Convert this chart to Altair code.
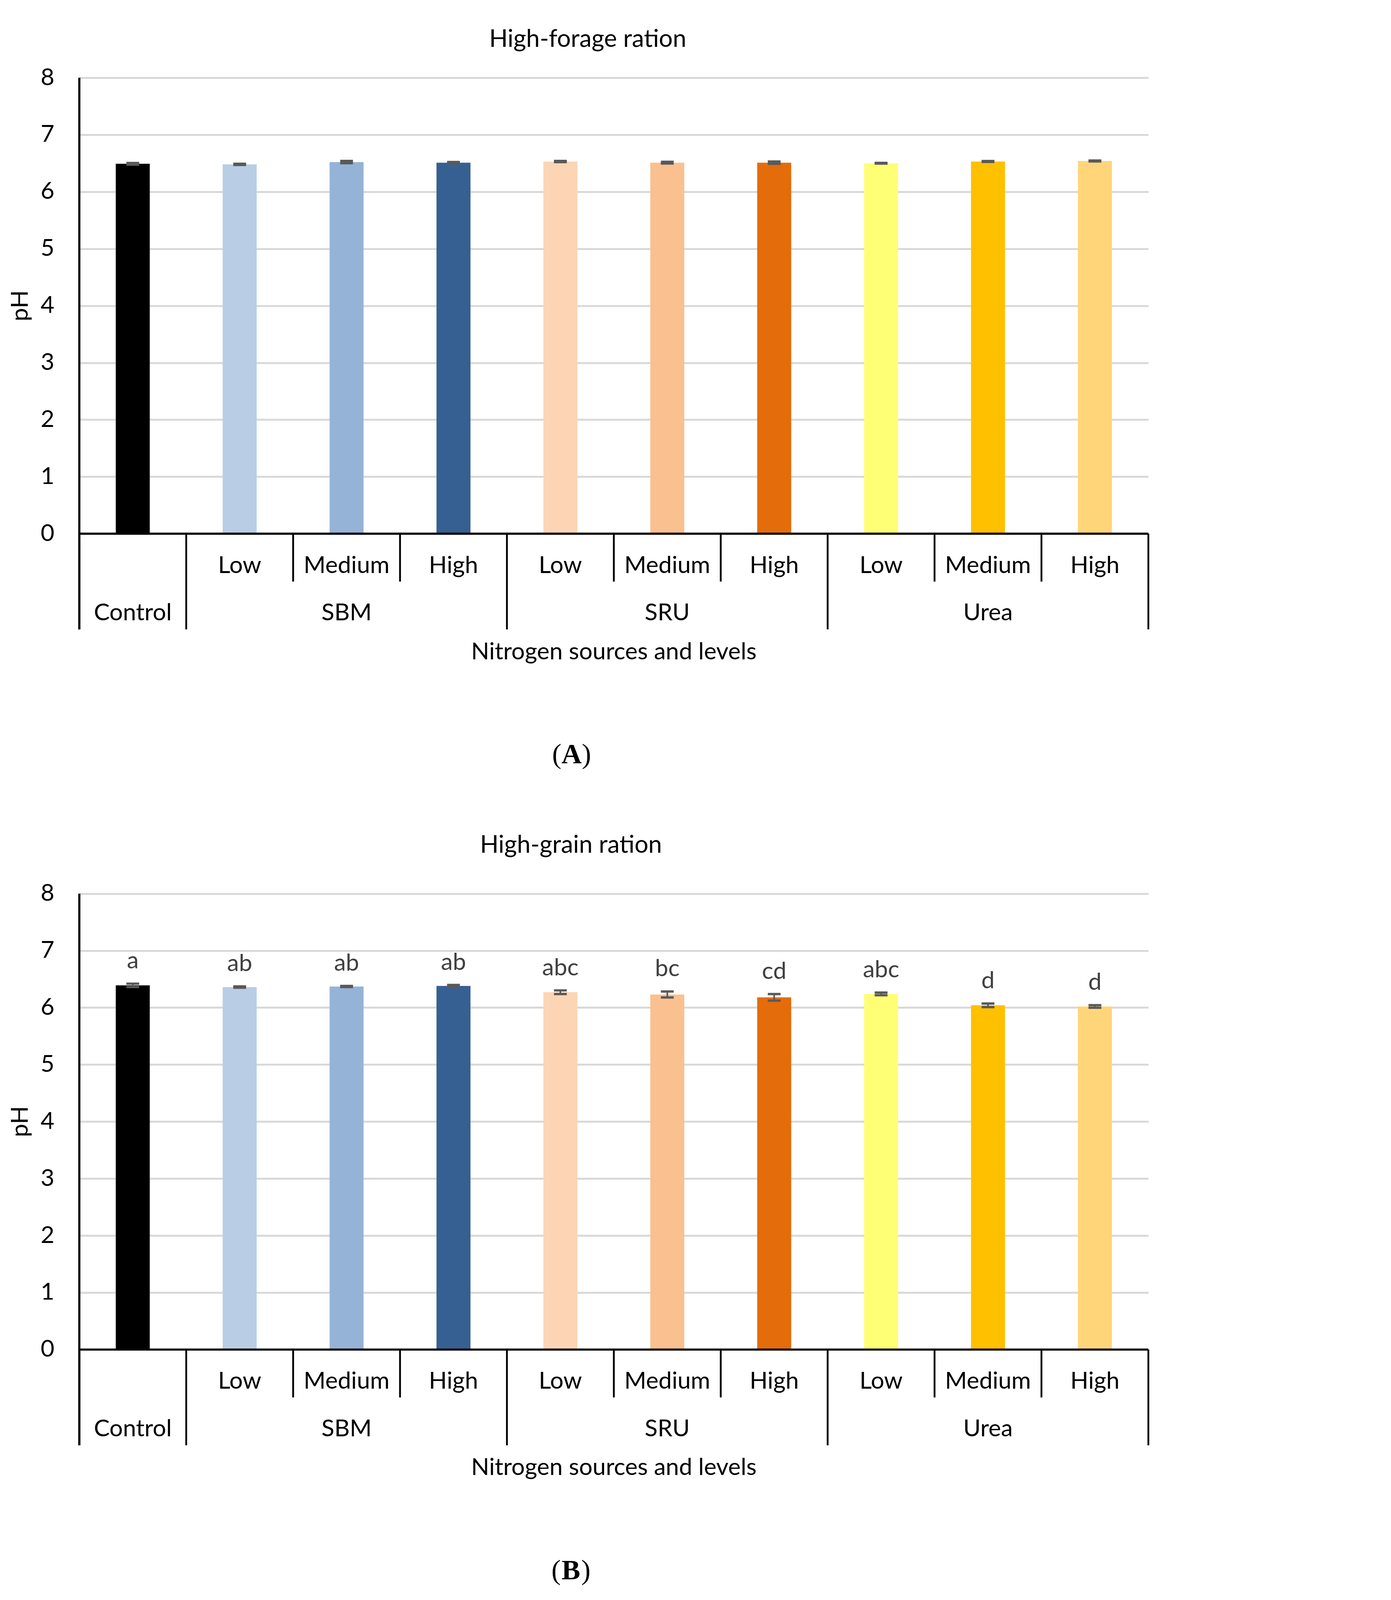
import altair as alt
import pandas as pd

# ---------------- data ----------------
sources = ["Control", "SBM", "SBM", "SBM", "SRU", "SRU", "SRU", "Urea", "Urea", "Urea"]
levels = ["", "Low", "Medium", "High", "Low", "Medium", "High", "Low", "Medium", "High"]
group_names = ["Control", "SBM", "SRU", "Urea"]
group_start = [0, 1, 4, 7]
group_size = [1, 3, 3, 3]
bar_colors = ["#000000", "#B9CDE5", "#95B3D7", "#376092", "#FCD5B5",
              "#FAC090", "#E46C0A", "#FFFF75", "#FFC000", "#FFD579"]

forage_mean = [6.49, 6.48, 6.52, 6.51, 6.53, 6.51, 6.51, 6.50, 6.53, 6.54]
forage_se = [0.015, 0.010, 0.020, 0.012, 0.010, 0.015, 0.020, 0.006, 0.008, 0.008]

grain_mean = [6.39, 6.36, 6.37, 6.38, 6.27, 6.23, 6.18, 6.24, 6.04, 6.02]
grain_se = [0.030, 0.012, 0.010, 0.018, 0.032, 0.052, 0.058, 0.023, 0.032, 0.023]
grain_letters = ["a", "ab", "ab", "ab", "abc", "bc", "cd", "abc", "d", "d"]

panel_titles = ["High-forage ration", "High-grain ration"]
panel_tags = ["A", "B"]
y_ticks = [0, 1, 2, 3, 4, 5, 6, 7, 8]
x_title = "Nitrogen sources and levels"
y_title = "pH"

# ---------------- layout / styling ----------------
S = 1 / 1.185           # screen-pixel to css-pixel factor observed in rendering


def px(v):
    return v * S


FONT = "Lato"
FS = px(72)
PLOT_W = round(px(3242))
UNIT = px(172.9)        # pixels per pH unit
Y_MIN = -1.68           # bottom of the category-label area (pH units below 0)
Y_MAX = 8
SHIFT = 14.315          # vertical distance between the two panels' zero lines (pH units)
Y_LOW = Y_MIN - SHIFT
PLOT_H = round((Y_MAX - Y_LOW) * UNIT)

x_scale = alt.Scale(domain=[0, 10], nice=False, zero=False)
y_scale = alt.Scale(domain=[Y_LOW, Y_MAX], nice=False, zero=False)

tick_values = y_ticks + [t - SHIFT for t in y_ticks]
y_axis = alt.Axis(values=tick_values, grid=True, gridColor="#D9D9D9", gridWidth=px(6),
                  domain=False, ticks=False, labelFont=FONT, labelFontSize=FS,
                  labelColor="#000000", labelPadding=px(76), title=None,
                  labelExpr=f"round(datum.value < -5 ? datum.value + {SHIFT} : datum.value)")


def X(field):
    return alt.X(field, type="quantitative", scale=x_scale, axis=None)


def Y(field):
    return alt.Y(field, type="quantitative", scale=y_scale, axis=y_axis)


def text_rows(rows):
    return pd.DataFrame(rows, columns=["t", "x", "y"])


def txt(d, **style):
    return alt.Chart(d).mark_text(**style).encode(
        x=X("x"), y=Y("y"), text=alt.Text("t", type="nominal"))


# ---------------- tables built from the arrays ----------------
frames = []
for p, (means, ses, letters) in enumerate([(forage_mean, forage_se, None),
                                           (grain_mean, grain_se, grain_letters)]):
    off = -SHIFT * p
    d = pd.DataFrame({"idx": list(range(len(means))), "mean": means, "se": ses,
                      "color": bar_colors, "level": levels, "source": sources})
    d["panel"] = p
    d["base"] = off
    d["center"] = d["idx"] + 0.5
    d["lo"] = d["center"] - 0.159
    d["hi"] = d["center"] + 0.159
    d["cap_lo"] = d["center"] - 0.06
    d["cap_hi"] = d["center"] + 0.06
    d["ym"] = d["mean"] + off
    d["top"] = d["mean"] + d["se"] + off
    d["bot"] = d["mean"] - d["se"] + off
    d["letter"] = letters if letters is not None else [""] * len(means)
    d["lvl_y"] = -0.688 + off
    frames.append(d)
df = pd.concat(frames, ignore_index=True)

base = alt.Chart(df)
bars = base.mark_bar().encode(
    x=X("lo"), x2=alt.X2("hi"), y=Y("ym"), y2=alt.Y2("base"),
    color=alt.Color("color", type="nominal", scale=None))
stems = base.mark_rule(color="#595959", strokeWidth=px(5)).encode(
    x=X("center"), y=Y("bot"), y2=alt.Y2("top"))
caps_top = base.mark_rule(color="#595959", strokeWidth=px(7)).encode(
    x=X("cap_lo"), x2=alt.X2("cap_hi"), y=Y("top"))
caps_bot = base.mark_rule(color="#595959", strokeWidth=px(7)).encode(
    x=X("cap_lo"), x2=alt.X2("cap_hi"), y=Y("bot"))
letters_l = base.transform_filter("datum.letter != ''").mark_text(
    font=FONT, fontSize=FS, color="#404040", baseline="alphabetic", dy=-px(46)).encode(
    x=X("center"), y=Y("top"), text=alt.Text("letter", type="nominal"))
lvl_text = base.transform_filter("datum.level != ''").mark_text(
    font=FONT, fontSize=FS, color="#000000", baseline="alphabetic").encode(
    x=X("center"), y=Y("lvl_y"), text=alt.Text("level", type="nominal"))

# category separators and axis lines
bounds = set(group_start + [10])
sep_rows = []
for p in range(2):
    off = -SHIFT * p
    for pos in range(11):
        sep_rows.append({"x": pos, "y": off, "y2": (Y_MIN if pos in bounds else -0.84) + off})
sep = pd.DataFrame(sep_rows)
seps = alt.Chart(sep).mark_rule(color="#000000", strokeWidth=px(5.5)).encode(
    x=X("x"), y=Y("y"), y2=alt.Y2("y2"))

ax = pd.DataFrame({"x0": [0.0, 0.0], "x1": [10.0, 10.0], "y": [0.0, -SHIFT]})
xlines = alt.Chart(ax).mark_rule(color="#000000", strokeWidth=px(6.5)).encode(
    x=X("x0"), x2=alt.X2("x1"), y=Y("y"))
ay = pd.DataFrame({"x": [0.0, 0.0], "y": [Y_MAX, Y_MAX - SHIFT], "y2": [Y_MIN, Y_MIN - SHIFT]})
ylines = alt.Chart(ay).mark_rule(color="#000000", strokeWidth=px(6.5)).encode(
    x=X("x"), y=Y("y"), y2=alt.Y2("y2"))

grp_rows = []
for p in range(2):
    for name, s, n in zip(group_names, group_start, group_size):
        grp_rows.append((name, s + n / 2, -1.521 - SHIFT * p))
grp_text = txt(text_rows(grp_rows), font=FONT, fontSize=FS, color="#000000",
               baseline="alphabetic")

xt = txt(text_rows([(x_title, 5.0, -2.204), (x_title, 5.0, -2.204 - SHIFT)]),
         font=FONT, fontSize=FS, color="#000000", baseline="alphabetic")
yt = txt(text_rows([(y_title, -0.481, 4.0), (y_title, -0.481, 4.0 - SHIFT)]),
         font=FONT, fontSize=FS, color="#000000", angle=270,
         baseline="alphabetic", align="center")
tt = txt(text_rows([(panel_titles[0], 4.756, 8.543),
                    (panel_titles[1], 4.599, 8.72 - SHIFT)]),
         font=FONT, fontSize=px(74), color="#000000", baseline="alphabetic")

tag_pos = [(4.605, -4.03), (4.599, -4.03 - SHIFT)]
tag_l = txt(text_rows([("(", x, y) for x, y in tag_pos]), font="Liberation Serif",
            fontSize=px(85), color="#000000", align="right", dx=-px(31),
            baseline="alphabetic")
tag_m = txt(text_rows([(t, x, y) for t, (x, y) in zip(panel_tags, tag_pos)]),
            font="Liberation Serif", fontSize=px(85), fontWeight="bold", color="#000000",
            align="center", baseline="alphabetic")
tag_r = txt(text_rows([(")", x, y) for x, y in tag_pos]), font="Liberation Serif",
            fontSize=px(85), color="#000000", align="left", dx=px(31),
            baseline="alphabetic")

chart = alt.layer(
    bars, stems, caps_top, caps_bot, seps, xlines, ylines, lvl_text, grp_text,
    xt, yt, tt, tag_l, tag_m, tag_r, letters_l,
).properties(
    width=PLOT_W, height=PLOT_H,
    padding={"left": 14, "top": 61, "right": 10, "bottom": 10},
    background="#FFFFFF",
).configure_view(stroke=None)

chart.save("out.html", embed_options={"renderer": "svg", "actions": False})
